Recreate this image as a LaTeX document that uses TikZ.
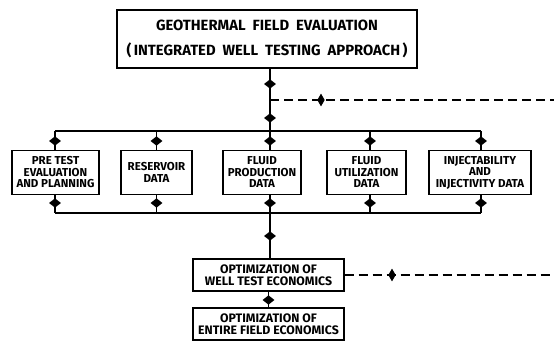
\documentclass[tikz,border=0pt]{standalone}
\usepackage{fontspec}
\setsansfont{Fira Sans}
\usetikzlibrary{shapes.geometric}
\begin{document}
\begin{tikzpicture}[x=1pt,y=-1pt,
  box/.style={draw,line width=1.4pt,rectangle,inner sep=0pt,align=center,
    font=\sffamily\bfseries\fontsize{11.5}{11.5}\selectfont},
  ln/.style={line width=1.4pt},
  dsh/.style={line width=1.4pt,dash pattern=on 9pt off 5pt},
  dmd/.style={diamond,fill=black,draw=none,inner sep=0pt,minimum width=12pt,minimum height=9.5pt},
  vdmd/.style={diamond,fill=black,draw=none,inner sep=0pt,minimum width=7.5pt,minimum height=13pt},
]
\useasboundingbox (0,0) rectangle (554,344);

% top box
\node[box,minimum width=300pt,minimum height=58pt,
  font=\sffamily\bfseries\fontsize{14.8}{25}\selectfont] (top) at (267,39)
  {GEOTHERMAL\ \ FIELD\ \ EVALUATION\\(\,INTEGRATED\ \ WELL\ \ TESTING\ \ APPROACH\,)};

% coordinates for lines
\coordinate (hT) at (270,131);
\coordinate (hTL) at (55,131);
\coordinate (hTR) at (481,131);
\coordinate (hB) at (270,213);
\coordinate (hBL) at (55,213);
\coordinate (hBR) at (481,213);
\coordinate (br) at (270,100);
\coordinate (c4) at (370,0);
\coordinate (edge) at (554,0);

% child boxes
\node[box,minimum width=87pt,minimum height=44pt] (b1) at (55.5,172.5) {PRE TEST\\EVALUATION\\AND PLANNING};
\node[box,minimum width=71pt,minimum height=44pt] (b2) at (156.5,172.5) {RESERVOIR\\DATA};
\node[box,minimum width=78pt,minimum height=44pt] (b3) at (262,172.5) {FLUID\\PRODUCTION\\DATA};
\node[box,minimum width=79pt,minimum height=44pt] (b4) at (366.5,172.5) {FLUID\\UTILIZATION\\DATA};
\node[box,minimum width=102pt,minimum height=44pt] (b5) at (480,172.5) {INJECTABILITY\\AND\\INJECTIVITY DATA};

% bottom boxes
\node[box,minimum width=151pt,minimum height=32pt,font=\sffamily\bfseries\fontsize{12.3}{12}\selectfont] (b6) at (268.5,275) {OPTIMIZATION OF\\WELL TEST ECONOMICS};
\node[box,minimum width=151pt,minimum height=32pt,font=\sffamily\bfseries\fontsize{12.3}{12}\selectfont] (b7) at (268.5,324) {OPTIMIZATION OF\\ENTIRE FIELD ECONOMICS};

% main trunk
\draw[ln] (top.south -| hT) -- (hT);
\draw[dsh] (br) -- (br -| edge);
\draw[ln] (hTL) -- (hTR);
\draw[ln] (hBL) -- (hBR);

% branches down to boxes
\draw[ln] (hTL) -- (b1.north -| hTL);
\draw[ln] (b1.south -| hBL) -- (hBL);
\draw[ln] (hTL -| b2.north) -- (b2.north);
\draw[ln] (b2.south) -- (hBL -| b2.south);
\draw[ln] (hT) -- (b3.north -| hT);
\draw[ln] (b3.south -| hB) -- (hB);
\draw[ln] (hTR -| c4) -- (b4.north -| c4);
\draw[ln] (b4.south -| c4) -- (hBR -| c4);
\draw[ln] (hTR) -- (b5.north -| hTR);
\draw[ln] (b5.south -| hBR) -- (hBR);

% lower trunk
\draw[ln] (hB) -- (b6.north -| hB);
\draw[dsh] (b6.east) -- (b6.east -| edge);
\draw[ln] (b6.south) -- (b7.north);

% diamonds
\node[dmd] (d1) at (270,84) {};
\node[dmd] (d2) at (270,118) {};
\node[vdmd] (d3) at (321,100) {};
\node[dmd] (t1) at (55,141) {};
\node[dmd] (t2) at (156.5,141) {};
\node[dmd] (t3) at (270,141) {};
\node[dmd] (t4) at (370,141) {};
\node[dmd] (t5) at (481,141) {};
\node[dmd] (u1) at (55,203) {};
\node[dmd] (u2) at (156.5,203) {};
\node[dmd] (u3) at (270,203) {};
\node[dmd] (u4) at (370,203) {};
\node[dmd] (u5) at (481,203) {};
\node[dmd] (d4) at (270,236) {};
\node[vdmd] (d5) at (392,275) {};
\node[dmd] (d6) at (268.5,300) {};
\end{tikzpicture}
\end{document}
